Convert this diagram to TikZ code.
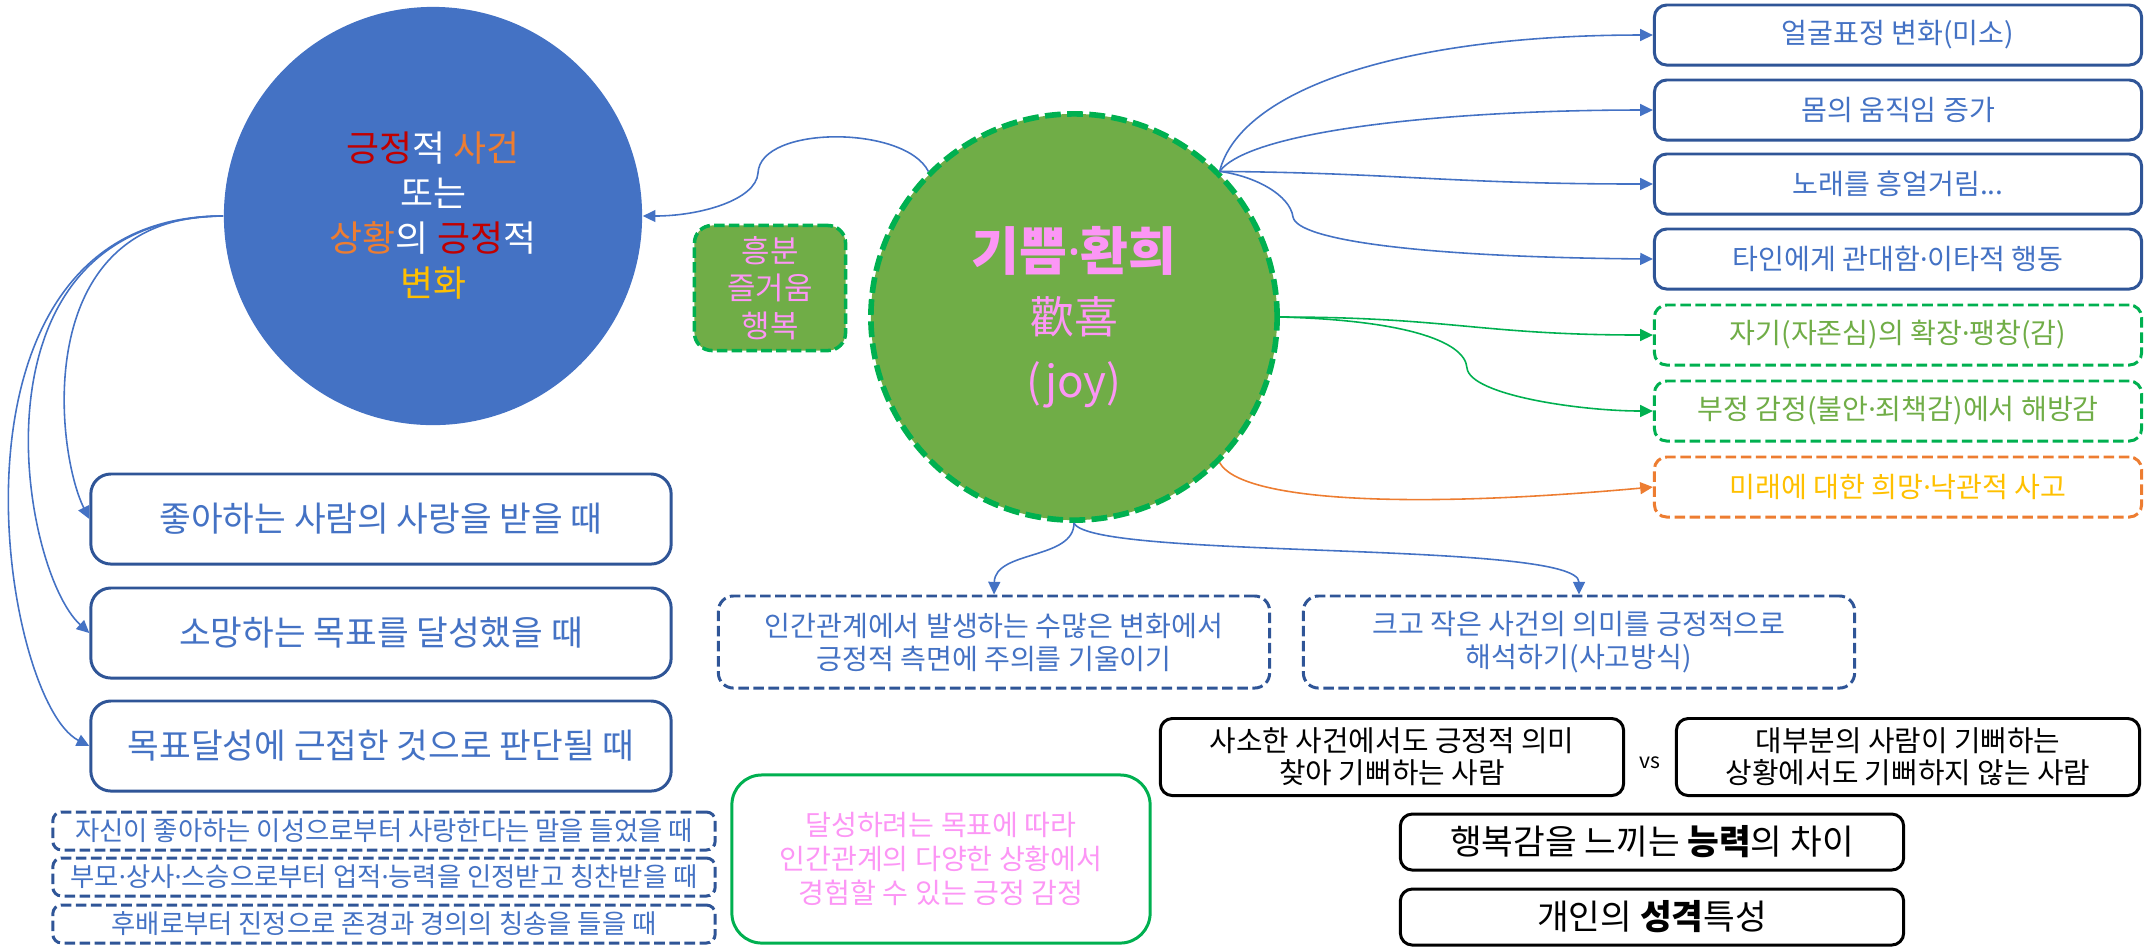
\documentclass[tikz,border=0pt]{standalone}
\usepackage{fontspec}
\setmainfont{Noto Sans CJK KR}
\newfontfamily\latinfont{Noto Sans}
\newcommand{\ptdot}{{\latinfont ·}}
\usepackage{tikz}
\usetikzlibrary{arrows.meta}
\definecolor{pptblue}{RGB}{68,114,196}
\definecolor{navy}{RGB}{47,85,151}
\definecolor{leaf}{RGB}{112,173,71}
\definecolor{mint}{RGB}{0,176,80}
\definecolor{tangerine}{RGB}{237,125,49}
\definecolor{gold}{RGB}{255,192,0}
\definecolor{crimson}{RGB}{192,0,0}
\definecolor{blush}{RGB}{252,150,245}

\begin{document}
\begin{tikzpicture}[x=0.01cm,y=-0.01cm,
  every node/.style={inner sep=0pt,align=center},
  eventc/.style={circle,fill=pptblue,minimum size=4.18cm,text=white,font=\fontsize{10.2pt}{12.8pt}\selectfont},
  joyc/.style={circle,fill=leaf,draw=mint,line width=1.6pt,dash pattern=on 4.5pt off 1.8pt,minimum size=4.06cm,text=blush,font=\fontsize{12.5pt}{18pt}\selectfont},
  synbox/.style={rectangle,rounded corners=5pt,fill=leaf,draw=mint,line width=1pt,dash pattern=on 3pt off 1.2pt,minimum width=1.51cm,minimum height=1.25cm,text=blush,font=\fontsize{8.8pt}{10.7pt}\selectfont},
  bluebox/.style={rectangle,rounded corners=3.5pt,draw=navy,line width=0.85pt,minimum width=4.87cm,minimum height=0.6cm,text=pptblue,font=\fontsize{8pt}{9.6pt}\selectfont},
  greenbox/.style={bluebox,draw=mint,dash pattern=on 3pt off 1.3pt,text=leaf},
  orangebox/.style={bluebox,draw=tangerine,dash pattern=on 3pt off 1.3pt,text=gold},
  whenbox/.style={bluebox,rounded corners=5.7pt,minimum width=5.8cm,minimum height=0.9cm,font=\fontsize{9.8pt}{11pt}\selectfont},
  casebox/.style={bluebox,rounded corners=2.5pt,dash pattern=on 3pt off 1.3pt,minimum width=6.62cm,minimum height=0.38cm,font=\fontsize{7.5pt}{9pt}\selectfont},
  thinkbox/.style={bluebox,rounded corners=4.3pt,dash pattern=on 3pt off 1.3pt,minimum width=5.51cm,minimum height=0.92cm,font=\fontsize{8pt}{9.4pt}\selectfont},
  defbox/.style={rectangle,rounded corners=8.5pt,draw=mint,line width=0.85pt,minimum width=4.18cm,minimum height=1.68cm,text=blush,font=\fontsize{8pt}{9.7pt}\selectfont},
  pairbox/.style={rectangle,rounded corners=3.4pt,draw=black,line width=0.85pt,minimum width=4.63cm,minimum height=0.77cm,font=\fontsize{8.2pt}{9.1pt}\selectfont},
  traitbox/.style={pairbox,minimum width=5.03cm,minimum height=0.56cm,font=\fontsize{9.8pt}{11pt}\selectfont},
  bluelink/.style={draw=pptblue,line width=0.45pt,-{Triangle[length=3.6pt,width=3.4pt]}},
  greenlink/.style={bluelink,draw=mint},
  orangelink/.style={bluelink,draw=tangerine}]
\useasboundingbox (0,0) rectangle (2148,947);

% circles
\node[eventc] (event) at (433,216) {\textcolor{crimson}{긍정}적 \textcolor{tangerine}{사건}\\또는\\\textcolor{tangerine}{상황}의 \textcolor{crimson}{긍정}적\\\textcolor{gold}{변화}};
\node[joyc] (joy) at (1074,317) {{\fontsize{14.8pt}{18pt}\selectfont\bfseries 기쁨\ptdot 환희}\\歡喜\\(joy)};
\node[synbox] (syn) at (770,288) {흥분\\즐거움\\행복};

% right column
\node[bluebox] (face) at (1898,35) {얼굴표정 변화(미소)};
\node[bluebox] (body) at (1898,110) {몸의 움직임 증가};
\node[bluebox] (hum) at (1898,184) {노래를 흥얼거림...};
\node[bluebox] (generous) at (1898,259) {타인에게 관대함\ptdot 이타적 행동};
\node[greenbox] (selfexp) at (1898,335) {자기(자존심)의 확장\ptdot 팽창(감)};
\node[greenbox] (relief) at (1898,411) {부정 감정(불안\ptdot 죄책감)에서 해방감};
\node[orangebox] (hope) at (1898,487) {미래에 대한 희망\ptdot 낙관적 사고};

% left column
\node[whenbox] (love) at (381,519) {좋아하는 사람의 사랑을 받을 때};
\node[whenbox] (goal) at (381,633) {소망하는 목표를 달성했을 때};
\node[whenbox] (near) at (381,746) {목표달성에 근접한 것으로 판단될 때};
\node[casebox] (heard) at (384,831) {자신이 좋아하는 이성으로부터 사랑한다는 말을 들었을 때};
\node[casebox] (praised) at (384,877) {부모\ptdot 상사\ptdot 스승으로부터 업적\ptdot 능력을 인정받고 칭찬받을 때};
\node[casebox] (honored) at (384,924) {후배로부터 진정으로 존경과 경의의 칭송을 들을 때};

% bottom
\node[thinkbox] (attend) at (994,642) {인간관계에서 발생하는 수많은 변화에서\\긍정적 측면에 주의를 기울이기};
\node[thinkbox] (interpret) at (1579,642) {크고 작은 사건의 의미를 긍정적으로\\해석하기(사고방식)};
\node[defbox] (define) at (941,859) {달성하려는 목표에 따라\\인간관계의 다양한 상황에서\\경험할 수 있는 긍정 감정};
\node[pairbox] (petty) at (1392,757) {사소한 사건에서도 긍정적 의미\\찾아 기뻐하는 사람};
\node[font=\fontsize{6pt}{6pt}\selectfont] (vs) at (1650,763) {vs};
\node[pairbox] (most) at (1908,757) {대부분의 사람이 기뻐하는\\상황에서도 기뻐하지 않는 사람};
\node[traitbox] (ability) at (1652,842) {행복감을 느끼는 {\bfseries 능력}의 차이};
\node[traitbox] (trait) at (1652,917) {개인의 {\bfseries 성격}특성};

% connectors
\draw[bluelink] (joy.135) .. controls (905,125) and (760,125) .. (758,173) .. controls (756,200) and (700,216) .. (event.east);
\draw[bluelink] (event.west) .. controls (30,215) and (55,450) .. (love.west);
\draw[bluelink] (event.west) .. controls (-40,220) and (20,570) .. (goal.west);
\draw[bluelink] (event.west) .. controls (-75,215) and (0,700) .. (near.west);
\draw[bluelink] (joy.45) .. controls (1240,90) and (1400,35) .. (face.west);
\draw[bluelink] (joy.45) .. controls (1250,130) and (1450,110) .. (body.west);
\draw[bluelink] (joy.45) .. controls (1400,173) and (1450,184) .. (hum.west);
\draw[bluelink] (joy.45) .. controls (1255,176) and (1290,195) .. (1293,217) .. controls (1297,240) and (1420,257) .. (generous.west);
\draw[greenlink] (joy.east) .. controls (1450,317) and (1480,335) .. (selfexp.west);
\draw[greenlink] (joy.east) .. controls (1400,320) and (1465,340) .. (1467,368) .. controls (1470,395) and (1580,411) .. (relief.west);
\draw[orangelink] (joy.-45) .. controls (1240,500) and (1400,510) .. (hope.west);
\draw[bluelink] (joy.south) .. controls (1074,560) and (995,550) .. (attend.north);
\draw[bluelink] (joy.south) .. controls (1090,560) and (1579,540) .. (interpret.north);
\end{tikzpicture}
\end{document}
